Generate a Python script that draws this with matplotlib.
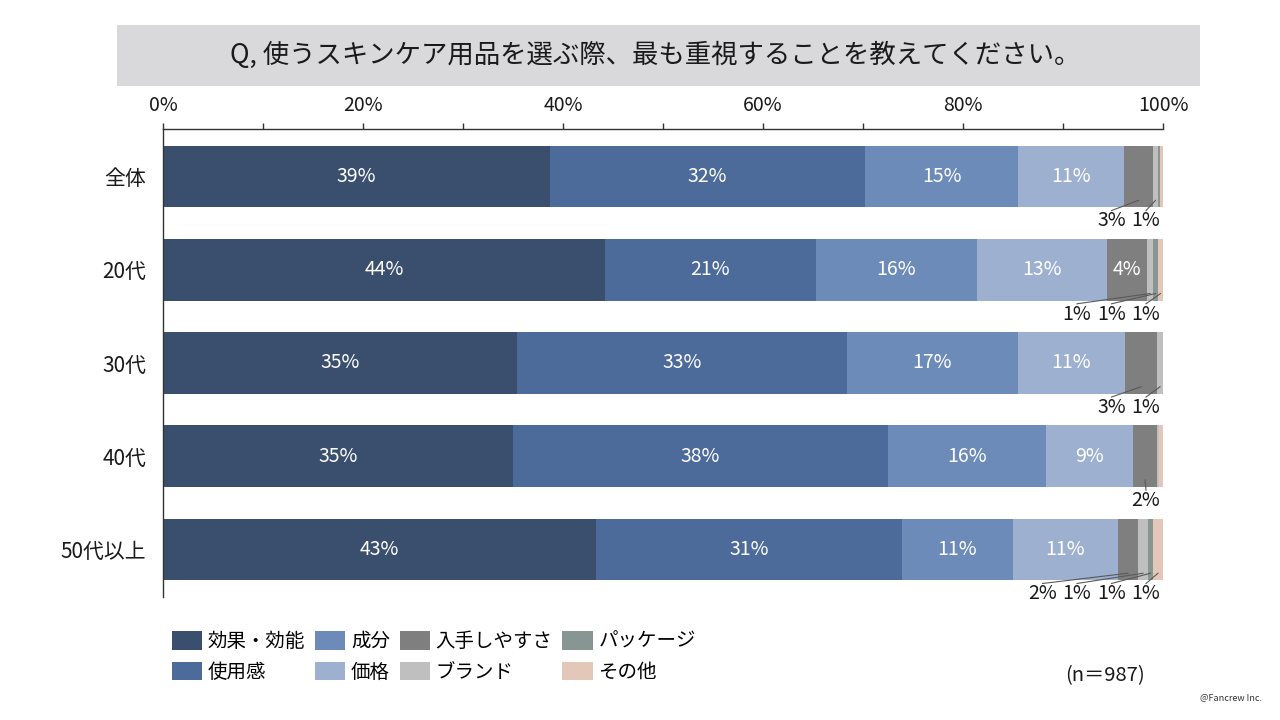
import math
import matplotlib
matplotlib.use("Agg")
import matplotlib.pyplot as plt
from matplotlib.patches import Rectangle, Patch

plt.rcParams['font.family'] = ['Noto Sans CJK JP', 'DejaVu Sans']

# ---- data ----
categories = ["全体", "20代", "30代", "40代", "50代以上"]
series_names = ["効果・効能", "使用感", "成分", "価格", "入手しやすさ", "ブランド", "パッケージ", "その他"]
kouka    = [38.7, 44.2, 35.4, 35.0, 43.3]
shiyou   = [31.5, 21.1, 33.0, 37.5, 30.6]
seibun   = [15.3, 16.1, 17.1, 15.8, 11.1]
kakaku   = [10.6, 13.0, 10.7,  8.7, 10.5]
nyushu   = [ 2.9,  4.0,  3.2,  2.4,  2.0]
brand    = [ 0.5,  0.6,  0.6,  0.2,  1.0]
package  = [ 0.2,  0.5,  0.0,  0.0,  0.5]
sonota   = [ 0.3,  0.5,  0.0,  0.4,  1.0]
series_values = [kouka, shiyou, seibun, kakaku, nyushu, brand, package, sonota]
colors = ["#3A4F6E", "#4C6B9A", "#6C8BB8", "#9EB0CF", "#7F7F7F", "#BFBFBF", "#879693", "#E3C8BA"]
xticks = [0, 20, 40, 60, 80, 100]

title = "Q, 使うスキンケア用品を選ぶ際、最も重視することを教えてください。"

def fmt(v):
    return f"{math.floor(v + 0.5 + 1e-9)}%"

W, H = 1280, 720
fig = plt.figure(figsize=(W / 100, H / 100), dpi=100)

# title box
fig.patches.append(Rectangle((117 / W, 1 - 86 / H), (1200 - 117) / W, 61 / H,
                             transform=fig.transFigure, facecolor="#D9D9DC", edgecolor="none", zorder=0))
fig.text(655 / W, 1 - 55 / H, title, ha="center", va="center", fontsize=19, color="#1a1a1a")

ax = fig.add_axes([163 / W, 1 - 597 / H, 1000 / W, (597 - 129) / H])
n = len(categories)
ys = list(range(n))
bar_h = 0.66
left = [0.0] * n
for vals, col, name in zip(series_values, colors, series_names):
    ax.barh(ys, vals, left=left, height=bar_h, color=col, label=name, edgecolor="none", zorder=2)
    left = [l + v for l, v in zip(left, vals)]

# labels
for i in range(n):
    cum = 0.0
    ext = []
    for vals in series_values:
        v = vals[i]
        if v >= 4:
            ax.text(cum + v / 2, i, fmt(v), ha="center", va="center", color="white", fontsize=14, zorder=3)
        elif v >= 0.5:
            ext.append((cum + v / 2, v))
        cum += v
    m = len(ext)
    for k, (xc, v) in enumerate(ext):
        lx = 98.3 - 3.45 * (m - 1 - k)
        y_lab = i + bar_h / 2 + 0.145
        ax.text(lx, y_lab, fmt(v), ha="center", va="center", color="#1a1a1a", fontsize=14, zorder=3)
        ax.plot([lx, xc], [i + bar_h / 2 + 0.035, i + bar_h / 2 - 0.075], color="#595959",
                lw=0.8, zorder=4, clip_on=False)

ax.set_xlim(0, 100)
ax.set_ylim(n - 1 + 0.51, -0.51)
ax.xaxis.tick_top()
ax.set_xticks(list(range(0, 101, 10)))
ax.set_xticklabels([f"{t}%" if t in xticks else "" for t in range(0, 101, 10)], fontsize=14, color="#1a1a1a")
ax.tick_params(axis="x", length=4.5, width=1, color="#333333", pad=5, direction="out")
ax.set_yticks(ys)
ax.set_yticklabels(categories, fontsize=15, color="#1a1a1a")
ax.tick_params(axis="y", length=0, pad=12)
for s in ["right", "bottom"]:
    ax.spines[s].set_visible(False)
ax.spines["top"].set_color("#333333")
ax.spines["left"].set_color("#333333")
ax.spines["top"].set_linewidth(1)
ax.spines["left"].set_linewidth(1)

handles = [Patch(facecolor=c, edgecolor="none") for c in colors]
leg = fig.legend(handles, series_names, ncol=4, loc="upper left",
                 bbox_to_anchor=(172 / W, 1 - 631 / H), frameon=False, fontsize=14,
                 handlelength=1.55, handleheight=1.1, handletextpad=0.3, columnspacing=0.5,
                 labelspacing=0.5, borderaxespad=0, borderpad=0)

fig.text(1105 / W, 1 - 676 / H, "(n＝987)", ha="center", va="center", fontsize=14.5, color="#1a1a1a")
fig.text(1262 / W, 1 - 698 / H, "@Fancrew Inc.", ha="right", va="center", fontsize=6.5, color="#333333")

fig.savefig("out.png", dpi=100)
